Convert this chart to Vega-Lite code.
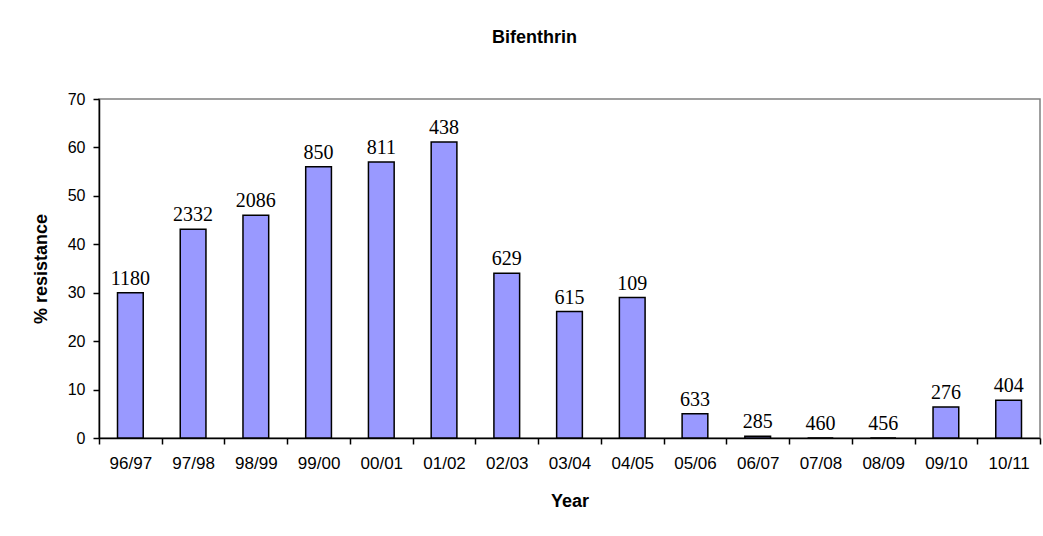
{
  "$schema": "https://vega.github.io/schema/vega-lite/v6.json",
  "width": 941,
  "height": 339,
  "autosize": {"type": "none"},
  "padding": {"left": 99, "top": 99, "right": 3, "bottom": 98},
  "background": "white",
  "title": {
    "text": "Bifenthrin",
    "font": "Liberation Sans",
    "fontSize": 18,
    "fontWeight": "bold",
    "color": "black",
    "anchor": "middle",
    "frame": "group",
    "baseline": "alphabetic",
    "offset": 30,
    "dx": -35
  },
  "data": {
    "values": [
      {"year": "96/97", "resistance": 30, "n": 1180},
      {"year": "97/98", "resistance": 43.1, "n": 2332},
      {"year": "98/99", "resistance": 46, "n": 2086},
      {"year": "99/00", "resistance": 56, "n": 850},
      {"year": "00/01", "resistance": 57, "n": 811},
      {"year": "01/02", "resistance": 61.1, "n": 438},
      {"year": "02/03", "resistance": 34, "n": 629},
      {"year": "03/04", "resistance": 26.1, "n": 615},
      {"year": "04/05", "resistance": 29, "n": 109},
      {"year": "05/06", "resistance": 5, "n": 633},
      {"year": "06/07", "resistance": 0.35, "n": 285},
      {"year": "07/08", "resistance": 0, "n": 460},
      {"year": "08/09", "resistance": 0, "n": 456},
      {"year": "09/10", "resistance": 6.4, "n": 276},
      {"year": "10/11", "resistance": 7.8, "n": 404}
    ]
  },
  "encoding": {
    "x": {
      "field": "year",
      "type": "nominal",
      "sort": null,
      "scale": {"paddingInner": 0, "paddingOuter": 0},
      "axis": {
        "title": "Year",
        "titleFont": "Liberation Sans",
        "titleFontSize": 18,
        "titleFontWeight": "bold",
        "titleColor": "black",
        "titlePadding": 21,
        "labelFont": "Liberation Sans",
        "labelFontSize": 17,
        "labelColor": "black",
        "labelAngle": 0,
        "labelPadding": 11,
        "tickBand": "extent",
        "tickSize": 6,
        "tickColor": "black",
        "tickWidth": 1.5,
        "domainColor": "black",
        "domainWidth": 1.5,
        "grid": false
      }
    },
    "y": {
      "field": "resistance",
      "type": "quantitative",
      "scale": {"domain": [0, 70], "nice": false},
      "axis": {
        "title": "% resistance",
        "titleFont": "Liberation Sans",
        "titleFontSize": 18,
        "titleFontWeight": "bold",
        "titleColor": "black",
        "titlePadding": 17,
        "values": [0, 10, 20, 30, 40, 50, 60, 70],
        "labelFont": "Liberation Sans",
        "labelFontSize": 16,
        "labelColor": "black",
        "labelPadding": 8,
        "tickSize": 6,
        "tickColor": "black",
        "tickWidth": 1.5,
        "domainColor": "black",
        "domainWidth": 1.5,
        "grid": false
      }
    }
  },
  "layer": [
    {
      "mark": {
        "type": "bar",
        "width": {"band": 0.41},
        "fill": "#9999FF",
        "stroke": "black",
        "strokeWidth": 1.5
      }
    },
    {
      "mark": {
        "type": "text",
        "font": "Liberation Serif",
        "fontSize": 20,
        "color": "black",
        "baseline": "alphabetic",
        "dy": -8
      },
      "encoding": {
        "text": {"field": "n", "type": "quantitative", "format": "d"}
      }
    }
  ],
  "config": {
    "view": {"stroke": "#808080", "strokeWidth": 1.5}
  }
}
